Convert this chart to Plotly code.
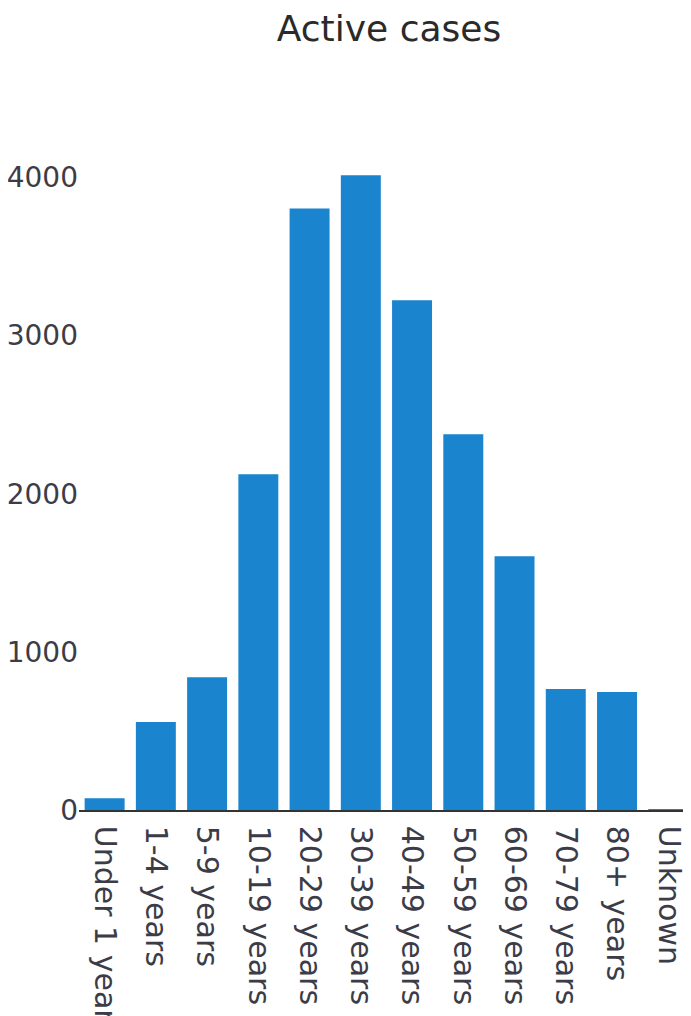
import plotly.graph_objects as go

# Age groups and active case counts
age_groups = ["Under 1 year", "1-4 years", "5-9 years", "10-19 years",
              "20-29 years", "30-39 years", "40-49 years", "50-59 years",
              "60-69 years", "70-79 years", "80+ years", "Unknown"]
active_cases = [75, 556, 840, 2123, 3804, 4013, 3223, 2376, 1605, 765, 746, 6]

y_ticks = [0, 1000, 2000, 3000, 4000]

fig = go.Figure()

fig.add_trace(go.Bar(
    x=age_groups,
    y=active_cases,
    marker=dict(color="#1a84cf", line=dict(width=0)),
))

fig.update_layout(
    width=691,
    height=1016,
    title=dict(text="Active cases", x=0.5, xref="paper", xanchor="center",
               y=1 - 8 / 1016, yanchor="top",
               font=dict(family="DejaVu Sans", size=36, color="#2a2a2a")),
    font=dict(family="DejaVu Sans", size=29, color="#3c3c48"),
    plot_bgcolor="white",
    paper_bgcolor="white",
    bargap=0.22,
    showlegend=False,
    margin=dict(l=71, r=0, t=134, b=214),
    xaxis=dict(
        tickangle=90,
        range=[-0.5, 11.6],
        automargin=False,
        showline=True,
        linecolor="#333333",
        linewidth=1.5,
        showgrid=False,
        ticks="",
        ticklabelstandoff=8,
        tickfont=dict(size=30),
    ),
    yaxis=dict(
        tickvals=y_ticks,
        range=[0, 4224],
        automargin=False,
        showgrid=False,
        zeroline=False,
        ticks="",
        tickfont=dict(size=28),
    ),
)

fig.write_html("out.html")
